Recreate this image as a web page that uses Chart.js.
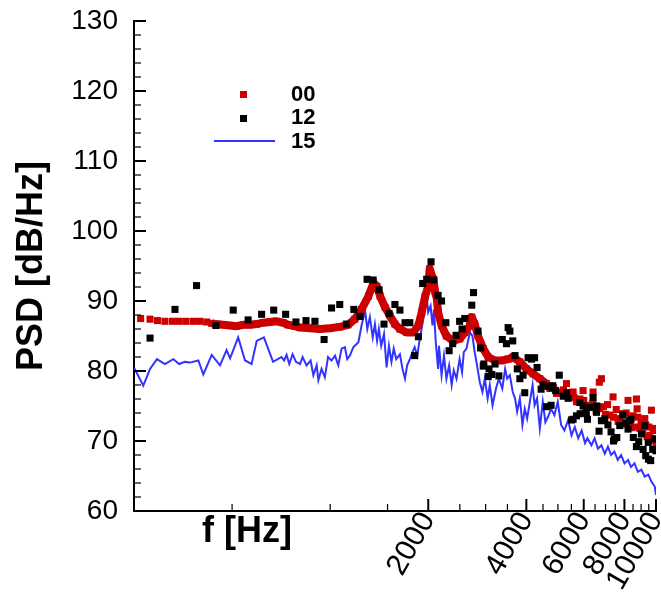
<!DOCTYPE html>
<html>
<head>
<meta charset="utf-8">
<script src="https://cdn.jsdelivr.net/npm/chart.js@4.4.0/dist/chart.umd.min.js"></script>
<style>
  html, body { margin: 0; padding: 0; background: #fff; }
  #psd { display: block; }
</style>
</head>
<body>
<canvas id="psd" width="661" height="605"></canvas>
<script>
// series "00" (red squares)
const freq00 = [
  262, 280, 295, 311, 328, 344, 361, 380, 398, 418,
  433, 450, 470, 493, 516, 541, 568, 595, 623, 653,
  684, 717, 743, 779, 808, 867, 930, 998, 1070, 1134,
  1190, 1248, 1311, 1358, 1391, 1423, 1474, 1525, 1580, 1637,
  1718, 1799, 1865, 1910, 1957, 2000, 2020, 2071, 2097, 2125,
  2144, 2197, 2274, 2386, 2500, 2589, 2683, 2720, 2777, 2843,
  2950, 3055, 3207, 3364, 3517, 3643, 3821, 4005, 4195, 4400,
  4612, 4722, 4850, 4950, 5068, 5200, 5312, 5350, 5438, 5566,
  5600, 5700, 5838, 5973, 6000, 6100, 6262, 6400, 6410, 6550,
  6700, 6721, 6800, 6900, 7000, 7100, 7212, 7382, 7400, 7550,
  7650, 7741, 7900, 8000, 8100, 8207, 8305, 8400, 8500, 8600,
  8708, 8750, 8800, 8914, 9000, 9100, 9235, 9300, 9400, 9500,
  9568, 9680, 9700, 9800, 9912, 9950, 10000
];
const psd00 = [
  87.5, 87.4, 87.2, 87.1, 87.1, 87.1, 87.1, 87.1, 87.1, 87.0,
  86.8, 86.7, 86.6, 86.5, 86.4, 86.6, 86.6, 86.7, 86.9, 87.0,
  87.1, 86.9, 86.6, 86.4, 86.2, 86.1, 86.0, 86.1, 86.3, 86.6,
  87.4, 88.8, 90.7, 92.6, 92.1, 90.7, 89.1, 87.9, 86.7, 86.0,
  85.5, 85.5, 86.5, 88.4, 90.7, 92.1, 94.6, 93.1, 91.4, 90.3,
  88.4, 86.5, 85.0, 84.3, 84.6, 85.5, 86.5, 87.7, 86.7, 85.0,
  83.2, 82.0, 81.5, 81.5, 81.7, 82.0, 81.3, 80.3, 79.6, 78.9,
  78.2, 77.5, 77.6, 76.8, 77.0, 77.3, 78.2, 76.4, 76.5, 77.0,
  76.2, 75.6, 76.0, 77.2, 75.8, 74.9, 75.1, 75.4, 77.0, 74.3,
  78.4, 74.6, 78.9, 74.9, 73.8, 75.2, 73.7, 76.3, 73.4, 74.5,
  72.8, 73.2, 73.9, 72.4, 74.0, 75.8, 72.7, 71.9, 73.6, 72.0,
  76.0, 74.6, 73.4, 71.8, 72.5, 71.2, 73.2, 72.3, 70.6, 72.0,
  70.8, 74.4, 70.3, 71.8, 70.1, 71.5, 69.8
];

// series "12" (black squares)
const freq12 = [
  280, 334, 389, 446, 504, 560, 616, 671, 730, 785,
  843, 898, 958, 1010, 1070, 1122, 1182, 1235, 1298, 1355,
  1413, 1463, 1517, 1580, 1637, 1697, 1756, 1817, 1865, 1923,
  1978, 2040, 2082, 2144, 2197, 2265, 2318, 2377, 2434, 2496,
  2540, 2589, 2720, 2754, 2843, 2895, 2950, 2962, 3055, 3073,
  3132, 3207, 3294, 3375, 3475, 3517, 3560, 3633, 3693, 3753,
  3821, 3909, 3955, 4050, 4151, 4240, 4315, 4440, 4500, 4612,
  4667, 4765, 4800, 4820, 4920, 5048, 5193, 5312, 5375, 5504,
  5566, 5700, 5838, 5850, 5973, 6110, 6160, 6262, 6410, 6567,
  6580, 6687, 6800, 6963, 7120, 7280, 7405, 7450, 7580, 7741,
  7915, 8070, 8207, 8305, 8380, 8520, 8708, 8850, 9020, 9130,
  9235, 9300, 9470, 9480, 9633, 9770, 9912, 10000
];
const psd12 = [
  84.7, 88.8, 92.2, 86.5, 88.7, 87.3, 88.1, 88.7, 88.1, 87.0,
  87.2, 87.1, 84.5, 89.0, 89.5, 86.7, 88.8, 87.8, 93.1, 93.0,
  91.6, 86.7, 88.2, 89.5, 88.7, 86.9, 86.9, 82.2, 84.9, 92.5,
  93.1, 95.6, 93.0, 90.8, 90.0, 86.9, 82.9, 83.9, 85.1, 87.1,
  86.0, 87.5, 89.4, 91.2, 85.7, 83.3, 80.7, 81.0, 79.2, 80.3,
  79.5, 81.0, 79.3, 84.5, 83.9, 86.2, 85.7, 84.3, 82.2, 80.3,
  78.9, 79.4, 76.9, 81.9, 81.7, 81.9, 80.5, 77.4, 78.0, 74.9,
  77.8, 75.1, 77.6, 77.9, 77.2, 79.4, 76.4, 76.9, 76.1, 73.0,
  73.1, 73.6, 75.5, 73.9, 75.0, 74.0, 73.1, 74.8, 76.2, 74.1,
  75.0, 71.4, 72.9, 73.2, 72.3, 71.3, 70.0, 70.3, 70.5, 72.2,
  73.7, 72.6, 71.7, 72.9, 73.1, 70.5, 69.2, 69.9, 71.0, 68.8,
  72.2, 67.9, 69.8, 67.4, 67.2, 68.8, 70.3, 68.6
];

// series "15" (blue line)
const freq15 = [
  250, 267, 280, 294, 311, 330, 344, 358, 371, 394,
  408, 433, 459, 481, 493, 522, 548, 574, 595, 626,
  668, 709, 722, 735, 749, 767, 785, 808, 823, 846,
  871, 888, 909, 920, 941, 963, 985, 1010, 1035, 1059,
  1084, 1110, 1128, 1150, 1177, 1221, 1248, 1280, 1300, 1324,
  1351, 1372, 1393, 1411, 1434, 1463, 1490, 1515, 1542, 1567,
  1595, 1637, 1667, 1697, 1723, 1756, 1789, 1817, 1851, 1883,
  1923, 1957, 1978, 1999, 2033, 2061, 2082, 2109, 2144, 2158,
  2197, 2235, 2274, 2318, 2360, 2395, 2442, 2496, 2540, 2571,
  2620, 2683, 2733, 2777, 2823, 2879, 2933, 2983, 3043, 3090,
  3150, 3228, 3294, 3375, 3443, 3493, 3560, 3633, 3693, 3748,
  3821, 3891, 3955, 4022, 4100, 4181, 4240, 4315, 4400, 4493,
  4576, 4667, 4765, 4878, 4994, 5115, 5236, 5375, 5504, 5634,
  5771, 5913, 6056, 6160, 6338, 6480, 6634, 6800, 6963, 7120,
  7280, 7450, 7632, 7816, 8004, 8207, 8380, 8590, 8794, 9020,
  9235, 9470, 9680, 9912, 10000
];
const psd15 = [
  80.5, 77.9, 80.3, 81.7, 81.0, 81.7, 81.0, 81.3, 81.2, 81.5,
  79.5, 82.3, 80.8, 83.0, 81.8, 84.8, 81.5, 81.0, 84.3, 84.8,
  81.3, 82.0, 81.5, 82.3, 81.0, 82.4, 81.3, 81.0, 82.0, 80.8,
  81.5, 79.4, 80.8, 78.7, 80.3, 79.1, 82.0, 81.5, 82.2, 80.8,
  83.2, 83.4, 81.7, 82.2, 83.4, 84.1, 86.5, 88.6, 86.0, 87.7,
  84.8, 86.7, 84.3, 86.0, 83.6, 85.3, 80.5, 83.6, 81.3, 83.2,
  81.7, 82.4, 80.3, 78.9, 80.8, 81.7, 82.7, 83.4, 82.2, 84.6,
  86.9, 89.8, 90.7, 88.4, 89.3, 86.5, 88.8, 84.1, 80.3, 83.6,
  79.4, 82.2, 78.9, 80.8, 78.0, 80.1, 78.9, 81.7, 79.8, 82.7,
  83.2, 85.5, 85.0, 82.7, 80.8, 78.4, 77.0, 78.9, 76.1, 78.0,
  75.1, 77.5, 78.9, 77.5, 80.3, 78.9, 79.4, 77.0, 76.1, 74.2,
  76.1, 72.3, 74.6, 73.2, 75.6, 78.0, 75.1, 76.1, 71.8, 75.6,
  72.7, 73.5, 74.6, 73.7, 75.6, 72.3, 71.5, 73.0, 70.8, 72.0,
  70.4, 71.5, 69.7, 70.4, 69.4, 70.4, 68.9, 69.4, 68.2, 69.2,
  68.0, 68.5, 67.3, 68.0, 66.8, 67.3, 66.3, 66.8, 65.6, 65.9,
  64.9, 65.2, 64.2, 63.5, 62.3
];

// axes
const xLabelTicks = [2000, 4000, 6000, 8000, 10000];
const xMinorTicks = [500, 1000, 1500, 2500, 3000, 3500, 4500, 5000, 5500, 6500, 7000, 7500, 8500, 9000, 9500];
const yTicks = [60, 70, 80, 90, 100, 110, 120, 130];
const yMinorTicks = [62, 64, 66, 68, 72, 74, 76, 78, 82, 84, 86, 88, 92, 94, 96, 98,
                     102, 104, 106, 108, 112, 114, 116, 118, 122, 124, 126, 128];
const legendNames = ['00', '12', '15'];

const RED = '#cc0000';
const BLUE = '#3333ff';
const FONT = "'Liberation Sans', Arial, Helvetica, sans-serif";

const toPoints = (fs, vs) => fs.map((f, i) => ({x: f, y: vs[i]}));

function tick(ctx, x0, y0, x1, y1, w) {
  ctx.lineWidth = w;
  ctx.beginPath();
  ctx.moveTo(x0, y0);
  ctx.lineTo(x1, y1);
  ctx.stroke();
}

const decor = {
  id: 'decor',
  afterDatasetsDraw(chart) {
    const {ctx, chartArea: a, scales: {x, y}} = chart;
    ctx.save();
    ctx.strokeStyle = '#000';
    xMinorTicks.forEach(v => { const px = x.getPixelForValue(v); tick(ctx, px, a.bottom, px, a.bottom - 7, 1.2); });
    xLabelTicks.forEach(v => { const px = x.getPixelForValue(v); tick(ctx, px, a.bottom, px, a.bottom - 12, 2); });
    yMinorTicks.forEach(v => { const py = y.getPixelForValue(v); tick(ctx, a.left, py, a.left + 7, py, 1.2); });
    yTicks.forEach(v => { const py = y.getPixelForValue(v); tick(ctx, a.left, py, a.left + 12, py, 2); });
    ctx.restore();
  },
  afterDraw(chart) {
    const ctx = chart.ctx;
    ctx.save();
    // legend
    ctx.fillStyle = RED;
    ctx.fillRect(240, 91, 7, 7);
    ctx.fillStyle = '#000';
    ctx.fillRect(240, 115, 7, 7);
    ctx.strokeStyle = BLUE;
    tick(ctx, 214, 141, 275, 141, 1.8);
    ctx.fillStyle = '#000';
    ctx.font = 'bold 22px ' + FONT;
    ctx.textAlign = 'left';
    ctx.textBaseline = 'middle';
    ctx.fillText(legendNames[0], 291, 95);
    ctx.fillText(legendNames[1], 291, 118);
    ctx.fillText(legendNames[2], 291, 142);
    // axis titles
    ctx.font = 'bold 36px ' + FONT;
    ctx.textAlign = 'center';
    ctx.fillText('f [Hz]', 247, 532);
    ctx.translate(32, 266);
    ctx.rotate(-Math.PI / 2);
    ctx.fillText('PSD [dB/Hz]', 0, 0);
    ctx.restore();
  }
};

const ctx = document.getElementById('psd').getContext('2d');
const chart = new Chart(ctx, {
  type: 'scatter',
  data: {
    datasets: [
      {
        label: legendNames[1],
        data: toPoints(freq12, psd12),
        showLine: false,
        pointStyle: 'rect',
        pointRadius: 5,
        pointBackgroundColor: '#000',
        pointBorderWidth: 0
      },
      {
        label: legendNames[0],
        data: toPoints(freq00, psd00),
        showLine: true,
        borderColor: RED,
        borderWidth: 8,
        borderJoinStyle: 'round',
        pointStyle: 'rect',
        pointRadius: 5,
        pointBackgroundColor: RED,
        pointBorderWidth: 0,
        segment: {
          borderColor: c => (c.p0.parsed.x >= 420 && c.p1.parsed.x <= 4700) ? RED : 'rgba(0,0,0,0)'
        }
      },
      {
        label: legendNames[2],
        data: toPoints(freq15, psd15),
        showLine: true,
        borderColor: BLUE,
        borderWidth: 2,
        pointRadius: 0,
        tension: 0
      }
    ]
  },
  options: {
    responsive: false,
    animation: false,
    devicePixelRatio: 1,
    layout: { padding: { top: 21, right: 5, left: 0, bottom: 0 } },
    plugins: { legend: { display: false }, tooltip: { enabled: false } },
    scales: {
      x: {
        type: 'logarithmic',
        min: 250,
        max: 10000,
        grid: { display: false, drawTicks: false },
        border: { display: true, color: '#000', width: 2 },
        ticks: {
          autoSkip: false,
          minRotation: 60,
          maxRotation: 60,
          padding: -5,
          labelOffset: 0,
          color: '#000',
          font: { family: FONT, size: 30 },
          callback: v => String(v)
        },
        afterBuildTicks: s => { s.ticks = xLabelTicks.map(v => ({value: v})); },
        afterFit: s => { s.height = 94; s.paddingLeft = 0; s.paddingRight = 0; }
      },
      y: {
        min: 60,
        max: 130,
        grid: { display: false, drawTicks: false },
        border: { display: true, color: '#000', width: 2 },
        ticks: {
          padding: 16,
          color: '#000',
          font: { family: FONT, size: 28 }
        },
        afterBuildTicks: s => { s.ticks = yTicks.map(v => ({value: v})); },
        afterFit: s => { s.width = 134; s.paddingTop = 0; s.paddingBottom = 0; }
      }
    }
  },
  plugins: [decor]
});
</script>
</body>
</html>
